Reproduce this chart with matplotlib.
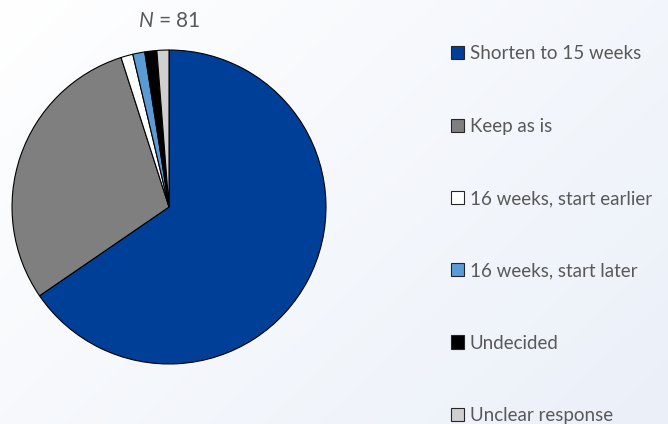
import numpy as np
import matplotlib.pyplot as plt
from matplotlib.patches import Patch

# survey responses, N = 81
labels = ["Shorten to 15 weeks", "Keep as is", "16 weeks, start earlier",
          "16 weeks, start later", "Undecided", "Unclear response"]
counts = [53, 24, 1, 1, 1, 1]
colors = ["#003f98", "#7f7f7f", "#ffffff", "#5b9bd5", "#000000", "#d0cece"]

plt.rcParams['font.family'] = ['Lato', 'DejaVu Sans']
plt.rcParams['mathtext.fontset'] = 'custom'
plt.rcParams['mathtext.it'] = 'Lato:italic'
plt.rcParams['mathtext.rm'] = 'Lato'

fig = plt.figure(figsize=(6.68, 4.24), dpi=100)

# soft background gradient, white top-left to pale blue bottom-right
bg = fig.add_axes([0, 0, 1, 1], zorder=-10)
gx, gy = np.meshgrid(np.linspace(0, 1, 200), np.linspace(0, 1, 200))
grad = (gx * 0.6 + gy * 0.4)
c0 = np.array([1.0, 1.0, 1.0])
c1 = np.array([0.92, 0.94, 0.975])
img = c0 + (c1 - c0) * grad[..., None]
bg.imshow(img, extent=[0, 1, 0, 1], aspect='auto', origin='upper')
bg.axis('off')

ax = fig.add_axes([0.018, 0.1415, 0.470, 0.7406])
ax.pie(counts, colors=colors, startangle=90, counterclock=False,
       wedgeprops=dict(edgecolor='black', linewidth=0.8))
ax.set_xlim(-1, 1)
ax.set_ylim(-1, 1)
ax.set_aspect('equal')

fig.text(0.253, 0.95, "$N$ = 81", ha='center', va='center',
         fontsize=15, color='#595959')

handles = [Patch(facecolor=c, edgecolor='#262626', linewidth=0.8) for c in colors]
fig.legend(handles, labels, loc='upper left', bbox_to_anchor=(0.675, 0.893),
           frameon=False, fontsize=13.5, labelcolor='#595959',
           handlelength=0.7, handleheight=0.7, handletextpad=0.3,
           labelspacing=2.95, borderaxespad=0, borderpad=0)

fig.savefig("out.png", dpi=100)
